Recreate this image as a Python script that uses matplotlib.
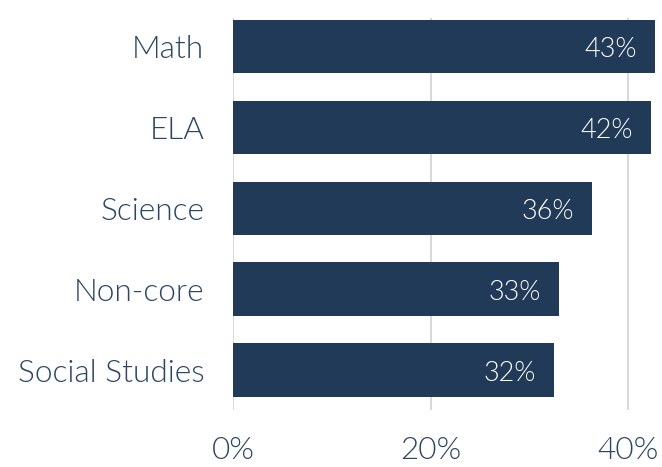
import matplotlib
matplotlib.use("Agg")
import matplotlib.pyplot as plt
from matplotlib import font_manager as fm

categories = ["Math", "ELA", "Science", "Non-core", "Social Studies"]
values = [42.7, 42.3, 36.3, 33.0, 32.5]
labels = ["43%", "42%", "36%", "33%", "32%"]
xticks = [0, 20, 40]
xticklabels = ["0%", "20%", "40%"]

light_path = None
for f in fm.fontManager.ttflist:
    if f.fname.endswith("Lato-Light.ttf"):
        light_path = f.fname
        break

def fp(size):
    if light_path:
        return fm.FontProperties(fname=light_path, size=size)
    return fm.FontProperties(family=["Lato", "DejaVu Sans"], weight="normal", size=size)

W, H = 662, 467
fig = plt.figure(figsize=(W / 100, H / 100), dpi=100)
left, right, top, bottom = 233.5, 658.1, 18, 410
ax = fig.add_axes([left / W, 1 - bottom / H, (right - left) / W, (bottom - top) / H])

bar_color = "#213a58"
text_color = "#2b4563"
ypos = list(range(len(categories)))
ax.barh(ypos, values, height=0.66, color=bar_color, zorder=2, clip_on=False)
ax.set_xlim(0, 43)
ax.set_ylim(4.494, -0.352)

for y, v, l in zip(ypos, values, labels):
    ax.annotate(l, (v, y), xytext=(-13, -2.5), textcoords="offset points",
                ha="right", va="center", color="white", fontproperties=fp(19.5),
                zorder=3)

ax.set_yticks(ypos)
ax.set_yticklabels(categories, color=text_color, fontproperties=fp(22.8))
ax.set_xticks(xticks)
ax.set_xticklabels(xticklabels, color=text_color, fontproperties=fp(22.8))
ax.tick_params(axis="y", length=0, pad=21)
ax.tick_params(axis="x", length=0, pad=19)
ax.grid(axis="x", color="#d9d9d9", linewidth=1.5, zorder=0)
for s in ax.spines.values():
    s.set_visible(False)

fig.savefig("out.png", dpi=100)
